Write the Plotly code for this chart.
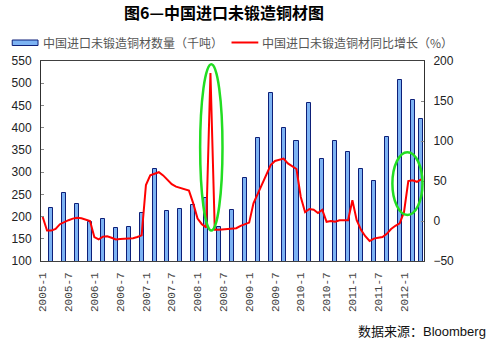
import plotly.graph_objects as go

# ---------------- data ----------------
tick_labels = ["2005-1", "2005-7", "2006-1", "2006-7", "2007-1", "2007-7", "2008-1", "2008-7",
               "2009-1", "2009-7", "2010-1", "2010-7", "2011-1", "2011-7", "2012-1"]

bar_months = ["2005-3", "2005-6", "2005-9", "2005-12", "2006-3", "2006-6", "2006-9", "2006-12",
              "2007-3", "2007-6", "2007-9", "2007-12", "2008-3", "2008-6", "2008-9", "2008-12",
              "2009-3", "2009-6", "2009-9", "2009-12", "2010-3", "2010-6", "2010-9", "2010-12",
              "2011-3", "2011-6", "2011-9", "2011-12", "2012-3", "2012-5"]
import_volume = [220, 252, 229, 188, 194, 174, 176, 209,
                 308, 213, 218, 227, 241, 176, 215, 287,
                 376, 477, 400, 370, 456, 329, 370, 346,
                 307, 281, 380, 508, 463, 419]

line_start = "2005-1"
yoy_growth = [5, -12, -12, -10, -4, -1, 1, 3, 4, 3.5, 1.5, 0,
              -20, -23, -19.5, -19, -21, -23, -22.5, -22, -22, -21.5, -20, -18,
              45, 57, 59, 61, 57, 52, 46, 43, 41, 40, 38, 22,
              3, -4, -8, 185, -11, -11, -10.5, -10, -9, -9, -6, -4,
              -2, 22, 34, 45, 56, 70, 75, 77, 78, 72, 68, 65,
              30, 11, 15, 14, 10, 14, -1, 0, -1, 1, 1, 1,
              26, 1, -11, -19, -25, -22, -21, -20, -16, -10, -6, -3,
              11, 50, 51, 49, 52]

bar_name = "中国进口未锻造铜材数量（千吨）"
line_name = "中国进口未锻造铜材同比增长（%）"
title_text = "图6—中国进口未锻造铜材图"
source_text = "数据来源：Bloomberg"


def month_index(s):
    y, m = s.split("-")
    return (int(y) - 2005) * 12 + int(m) - 1


bar_x = [month_index(s) for s in bar_months]
x0 = month_index(line_start)
line_x = [x0 + i for i in range(len(yoy_growth))]
tick_vals = [month_index(s) for s in tick_labels]

# ---------------- layout constants ----------------
W, H = 491, 340
L, R, T, B = 38, 67, 61, 79
PW, PH = W - L - R, H - T - B


def px(xp):
    return (xp - L) / PW


def py(yp):
    return (H - B - yp) / PH


fig = go.Figure()
fig.add_trace(go.Bar(
    x=bar_x, y=import_volume, name=bar_name, width=0.95,
    marker=dict(color="#7db3f3", line=dict(color="#0d1f78", width=1)),
    yaxis="y", showlegend=False,
))
fig.add_trace(go.Scatter(
    x=line_x, y=yoy_growth, name=line_name, mode="lines",
    line=dict(color="#ff0000", width=2),
    yaxis="y2", showlegend=False,
))

axis_font = dict(family="Arial, Liberation Sans, sans-serif", size=12, color="#222222")

fig.update_layout(
    width=W, height=H,
    margin=dict(l=L, r=R, t=T, b=B, pad=0),
    paper_bgcolor="white", plot_bgcolor="white",
    bargap=0,
    xaxis=dict(
        range=[-0.4, 88.65], tickmode="array", tickvals=tick_vals, ticktext=tick_labels,
        tickangle=-90, tickfont=dict(family="Liberation Mono, monospace", size=11, color="#444444"),
        showgrid=False, zeroline=False, showline=True, linecolor="#404040", linewidth=1,
        mirror=True, ticks="", ticklabelstandoff=6,
    ),
    yaxis=dict(
        range=[100, 550], dtick=50, tickfont=axis_font, showgrid=False, zeroline=False,
        showline=True, linecolor="#303030", linewidth=1, ticks="inside", ticklen=3,
        tickcolor="#888888", ticklabelstandoff=6,
    ),
    yaxis2=dict(
        range=[-50, 200], dtick=50, tickfont=axis_font, showgrid=False, zeroline=False,
        overlaying="y", side="right", showline=True, linecolor="#303030", linewidth=1,
        ticks="inside", ticklen=3, tickcolor="#888888", ticklabelstandoff=6,
    ),
    title=dict(
        text="<b>" + title_text + "</b>", x=224 / W, xanchor="center", xref="paper" if False else "container",
        y=1 - 13 / H, yanchor="middle",
        font=dict(family="Noto Sans CJK SC", size=16, color="#000000"),
    ),
)

# green highlight ellipses (in data coords: x months, y2 growth %)
ellipses = [
    dict(x0=36.6, x1=41.8, y0=-12, y1=196),
    dict(x0=81.3, x1=88.3, y0=7.5, y1=86),
]
for e in ellipses:
    fig.add_shape(type="circle", xref="x", yref="y2", x0=e["x0"], x1=e["x1"], y0=e["y0"], y1=e["y1"],
                  line=dict(color="#22dd22", width=2.5), fillcolor="rgba(0,0,0,0)")

# manual legend
fig.add_shape(type="rect", xref="paper", yref="paper", x0=px(9), x1=px(35), y0=py(45.5), y1=py(40),
              fillcolor="#7db3f3", line=dict(color="#0d1f78", width=1))
fig.add_annotation(xref="paper", yref="paper", x=px(38), y=py(42.5), text=bar_name, showarrow=False,
                   xanchor="left", yanchor="middle",
                   font=dict(family="Noto Sans CJK SC", size=12, color="#555555"))
fig.add_shape(type="line", xref="paper", yref="paper", x0=px(230), x1=px(257), y0=py(42.5), y1=py(42.5),
              line=dict(color="#ff0000", width=2))
fig.add_annotation(xref="paper", yref="paper", x=px(259), y=py(42.5), text=line_name, showarrow=False,
                   xanchor="left", yanchor="middle",
                   font=dict(family="Noto Sans CJK SC", size=12, color="#555555"))

# source
fig.add_annotation(xref="paper", yref="paper", x=px(488), y=py(331), text=source_text, showarrow=False,
                   xanchor="right", yanchor="middle",
                   font=dict(family="Arial, Liberation Sans, Noto Sans CJK SC", size=13, color="#111111"))

fig.write_html("out.html")
